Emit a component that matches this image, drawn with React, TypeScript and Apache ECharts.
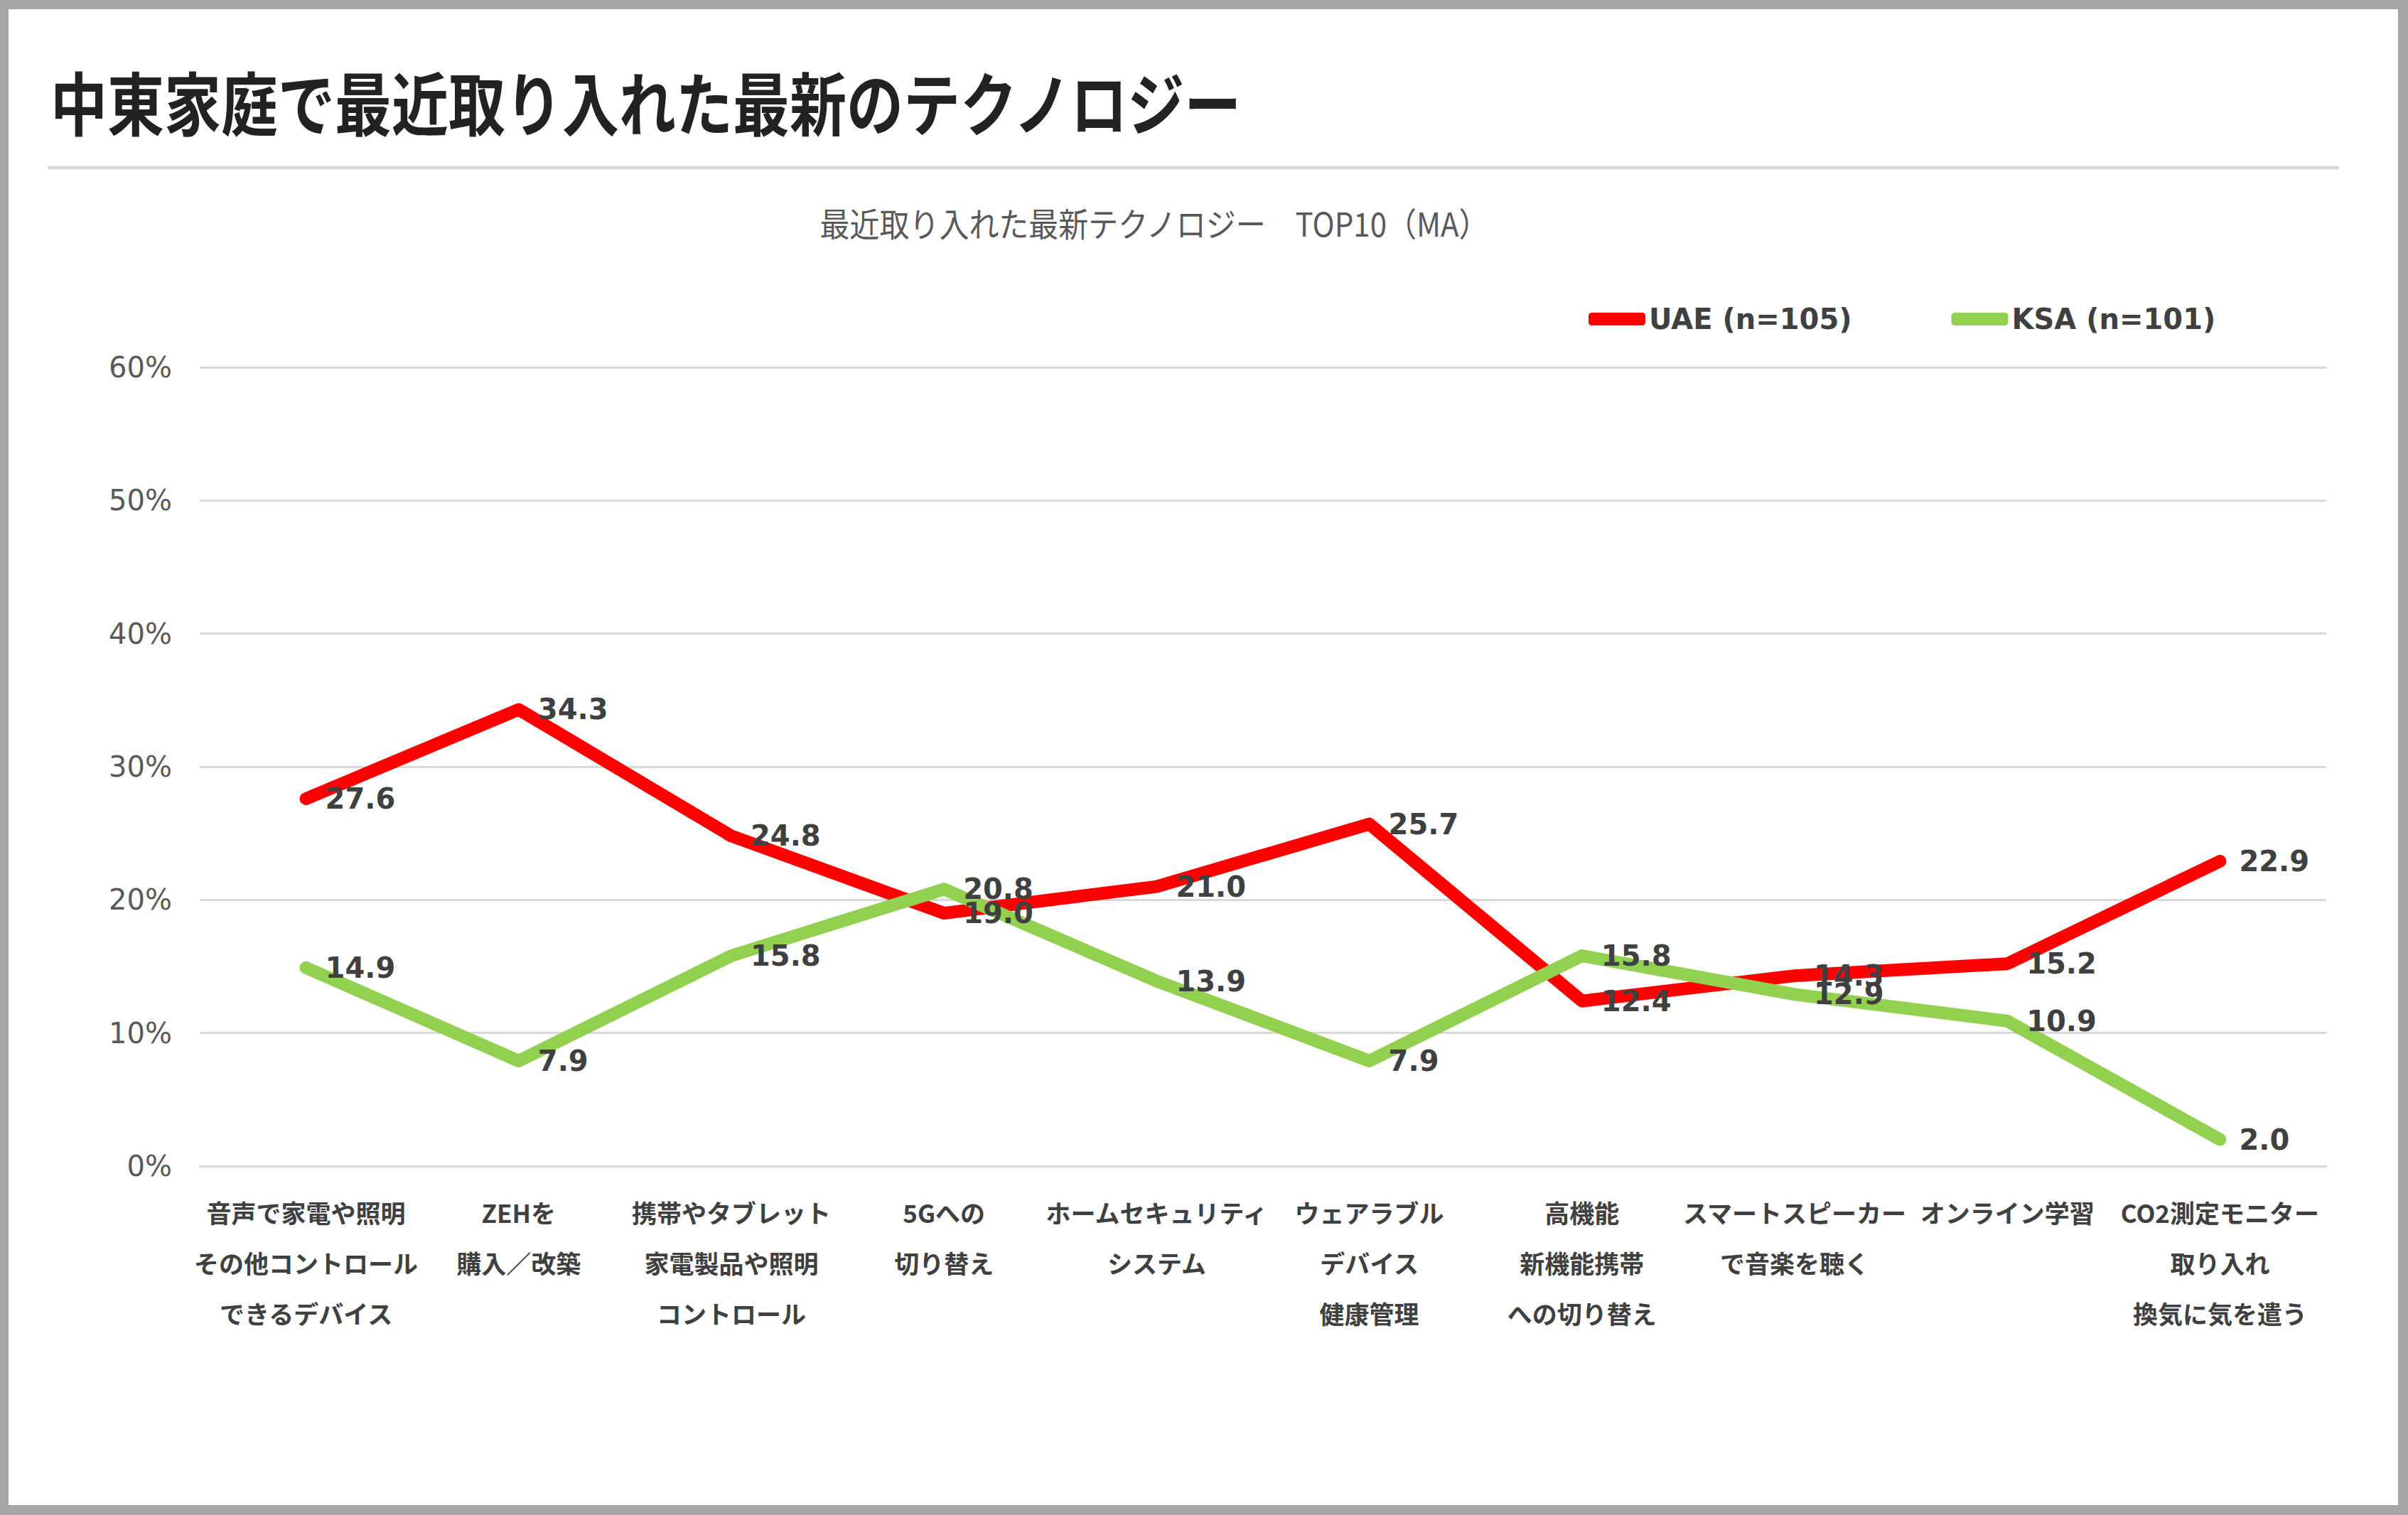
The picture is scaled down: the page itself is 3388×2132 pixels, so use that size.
import React, { useEffect, useRef } from "react";
import * as echarts from "echarts";

// Survey items (x-axis categories, multi-line labels)
const categories = [
  "音声で家電や照明\nその他コントロール\nできるデバイス",
  "ZEHを\n購入／改築",
  "携帯やタブレット\n家電製品や照明\nコントロール",
  "5Gへの\n切り替え",
  "ホームセキュリティ\nシステム",
  "ウェアラブル\nデバイス\n健康管理",
  "高機能\n新機能携帯\nへの切り替え",
  "スマートスピーカー\nで音楽を聴く",
  "オンライン学習",
  "CO2測定モニター\n取り入れ\n換気に気を遣う",
];

const seriesNames = ["UAE (n=105)", "KSA (n=101)"];
const uaeValues = [27.6, 34.3, 24.8, 19.0, 21.0, 25.7, 12.4, 14.3, 15.2, 22.9];
const ksaValues = [14.9, 7.9, 15.8, 20.8, 13.9, 7.9, 15.8, 12.9, 10.9, 2.0];

const yMin = 0;
const yMax = 60;
const yStep = 10;

const pageTitle = "中東家庭で最近取り入れた最新のテクノロジー";
const chartTitle = "最近取り入れた最新テクノロジー　TOP10（MA）";

const W = 3388;
const H = 2132;
const LATIN = "'DejaVu Sans', 'Noto Sans', sans-serif";
const CJK = "'Noto Sans CJK JP', 'Noto Sans', sans-serif";

export default function App() {
  const ref = useRef<HTMLDivElement>(null);

  useEffect(() => {
    if (!ref.current) return;
    const chart = echarts.init(ref.current, undefined, { renderer: "svg", width: W, height: H });

    const lineSeries = (name: string, data: number[], color: string) => ({
      name,
      type: "line",
      data,
      symbol: "circle",
      symbolSize: 2,
      itemStyle: { color },
      lineStyle: { color, width: 18, cap: "round", join: "round" },
      label: {
        show: true,
        position: "right",
        distance: 26,
        formatter: (p: any) => Number(p.value).toFixed(1),
        fontFamily: LATIN,
        fontWeight: "bold",
        fontSize: 40,
        color: "#404040",
      },
      emphasis: { disabled: true },
    });

    chart.setOption({
      animation: false,
      graphic: [
        {
          type: "text",
          x: 71,
          y: 141,
          scaleY: 1.2,
          style: {
            text: pageTitle,
            fontSize: 80,
            fontWeight: "bold",
            fontFamily: CJK,
            fill: "#222222",
            align: "left",
            verticalAlign: "middle",
            textAlign: "left",
            textVerticalAlign: "middle",
          },
        },
        {
          type: "line",
          shape: { x1: 67, y1: 236, x2: 3291, y2: 236 },
          style: { stroke: "#d9d9d9", lineWidth: 5 },
        },
        {
          type: "text",
          x: 1624,
          y: 313,
          scaleY: 1.1,
          style: {
            text: chartTitle,
            fontSize: 42,
            fontFamily: CJK,
            fill: "#595959",
            align: "center",
            verticalAlign: "middle",
            textAlign: "center",
            textVerticalAlign: "middle",
          },
        },
      ],
      legend: {
        data: seriesNames,
        left: 2230,
        top: 420,
        itemWidth: 80,
        itemHeight: 18,
        itemGap: 140,
        icon: "roundRect",
        textStyle: {
          fontFamily: LATIN,
          fontWeight: "bold",
          fontSize: 40,
          color: "#404040",
          lineHeight: 48,
        },
      },
      grid: { left: 281, right: 115, top: 517, bottom: 491, containLabel: false },
      xAxis: {
        type: "category",
        data: categories,
        boundaryGap: true,
        axisLine: { show: true, lineStyle: { color: "#d9d9d9", width: 3 } },
        axisTick: { show: false },
        axisLabel: {
          interval: 0,
          margin: 29,
          fontFamily: CJK,
          fontWeight: "bold",
          fontSize: 35,
          lineHeight: 71,
          color: "#404040",
        },
      },
      yAxis: {
        type: "value",
        min: yMin,
        max: yMax,
        interval: yStep,
        axisLine: { show: false },
        axisTick: { show: false },
        splitLine: { lineStyle: { color: "#d9d9d9", width: 3 } },
        axisLabel: {
          formatter: "{value}%",
          margin: 39,
          fontFamily: LATIN,
          fontSize: 40,
          color: "#595959",
        },
      },
      series: [
        lineSeries(seriesNames[0], uaeValues, "#ff0000"),
        lineSeries(seriesNames[1], ksaValues, "#92d050"),
      ],
    });

    return () => chart.dispose();
  }, []);

  return (
    <div style={{ position: "fixed", left: 0, top: 0, width: W, height: H, background: "#a5a5a5" }}>
      <div style={{ position: "absolute", left: 12, top: 13, width: 3362, height: 2105, background: "#ffffff" }} />
      <div ref={ref} style={{ position: "absolute", left: 0, top: 0, width: W, height: H }} />
    </div>
  );
}
